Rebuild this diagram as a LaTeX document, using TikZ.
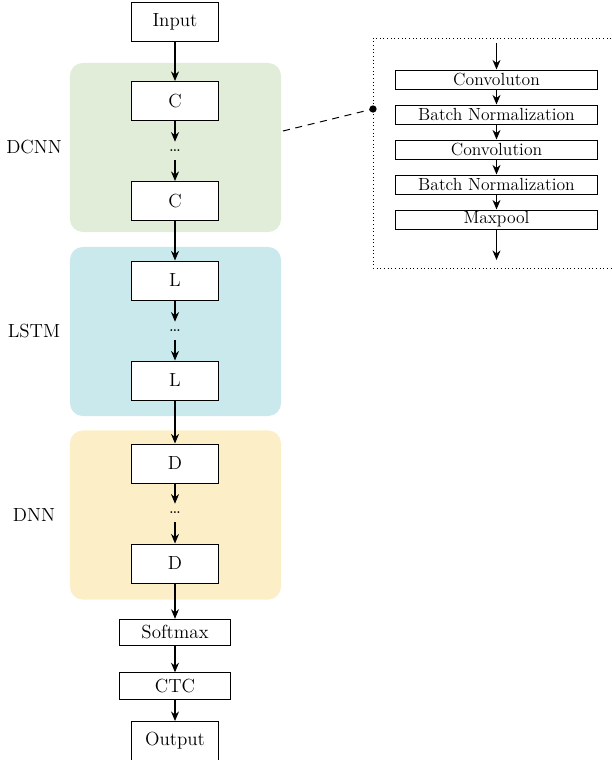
\documentclass[tikz,border=0pt]{standalone}
\usetikzlibrary{arrows.meta}

\definecolor{dcnnfill}{RGB}{225,237,216}
\definecolor{lstmfill}{RGB}{202,233,236}
\definecolor{dnnfill}{RGB}{252,239,199}

\begin{document}
\begin{tikzpicture}[
    x=0.025cm, y=-0.025cm,
    font=\fontsize{13.5}{16}\selectfont,
    layer/.style={rectangle, draw, line width=0.7pt, fill=white, minimum width=2.15cm, minimum height=0.975cm, inner sep=0pt},
    wide/.style={rectangle, draw, line width=0.7pt, fill=white, minimum width=2.75cm, minimum height=0.66cm, inner sep=0pt},
    block/.style={rectangle, draw, line width=0.7pt, fill=white, minimum width=5.025cm, minimum height=0.475cm, inner sep=0pt, font=\fontsize{12.5}{14}\selectfont},
    panel/.style={rectangle, rounded corners=0.32cm, draw=none, minimum width=5.275cm, minimum height=4.225cm},
    dots/.style={inner sep=0pt, minimum height=0.45cm},
    arrow/.style={-{Stealth[length=2.4mm, width=2mm]}, line width=0.75pt}
]
\useasboundingbox (0,0) rectangle (611,760);

% Panels
\node[panel, fill=dcnnfill] (dcnnbg) at (175.5,147.5) {};
\node[panel, fill=lstmfill] (lstmbg) at (175.5,331.5) {};
\node[panel, fill=dnnfill] (dnnbg) at (175.5,515) {};

\node (dcnnlabel) at (34,147) {DCNN};
\node (lstmlabel) at (34,331) {LSTM};
\node (dnnlabel) at (34,515) {DNN};

% Main column
\node[layer] (input) at (175,22) {Input};

\node[layer] (c1) at (175,101) {C};
\node[dots] (cdots) at (175,151) {\dots};
\node[layer] (c2) at (175,201) {C};

\node[layer] (l1) at (175,280.5) {L};
\node[dots] (ldots) at (175,331) {\dots};
\node[layer] (l2) at (175,380.5) {L};

\node[layer] (d1) at (175,463.5) {D};
\node[dots] (ddots) at (175,513) {\dots};
\node[layer] (d2) at (175,563.5) {D};

\node[wide] (softmax) at (175,632.5) {Softmax};
\node[wide] (ctc) at (175,686) {CTC};
\node[layer] (output) at (175,741) {Output};

% Connections
\draw[arrow] (input) -- (c1);
\draw[arrow] (c1) -- (cdots);
\draw[arrow] (cdots) -- (c2);
\draw[arrow] (c2) -- (l1);
\draw[arrow] (l1) -- (ldots);
\draw[arrow] (ldots) -- (l2);
\draw[arrow] (l2) -- (d1);
\draw[arrow] (d1) -- (ddots);
\draw[arrow] (ddots) -- (d2);
\draw[arrow] (d2) -- (softmax);
\draw[arrow] (softmax) -- (ctc);
\draw[arrow] (ctc) -- (output);

% Detail of a C block
\draw[dotted, line width=0.6pt] (611,38) -- (373,38) -- (373,268) -- (611,268);
\coordinate (zoomin) at (496.5,43);
\coordinate (zoomout) at (496.5,260);
\coordinate (panelside) at (283,131);
\coordinate (zoomdot) at (373,109);

\node[block] (conv1) at (496.5,79.5) {Convoluton};
\node[block] (bn1) at (496.5,114.5) {Batch Normalization};
\node[block] (conv2) at (496.5,149.5) {Convolution};
\node[block] (bn2) at (496.5,184.5) {Batch Normalization};
\node[block] (pool) at (496.5,219.5) {Maxpool};

\draw[arrow] (zoomin) -- (conv1);
\draw[arrow] (conv1) -- (bn1);
\draw[arrow] (bn1) -- (conv2);
\draw[arrow] (conv2) -- (bn2);
\draw[arrow] (bn2) -- (pool);
\draw[arrow] (pool) -- (zoomout);

\fill (zoomdot) circle (2.6pt);
\draw[dashed, line width=0.7pt, dash pattern=on 5pt off 4pt] (panelside) -- (zoomdot);

\end{tikzpicture}
\end{document}
